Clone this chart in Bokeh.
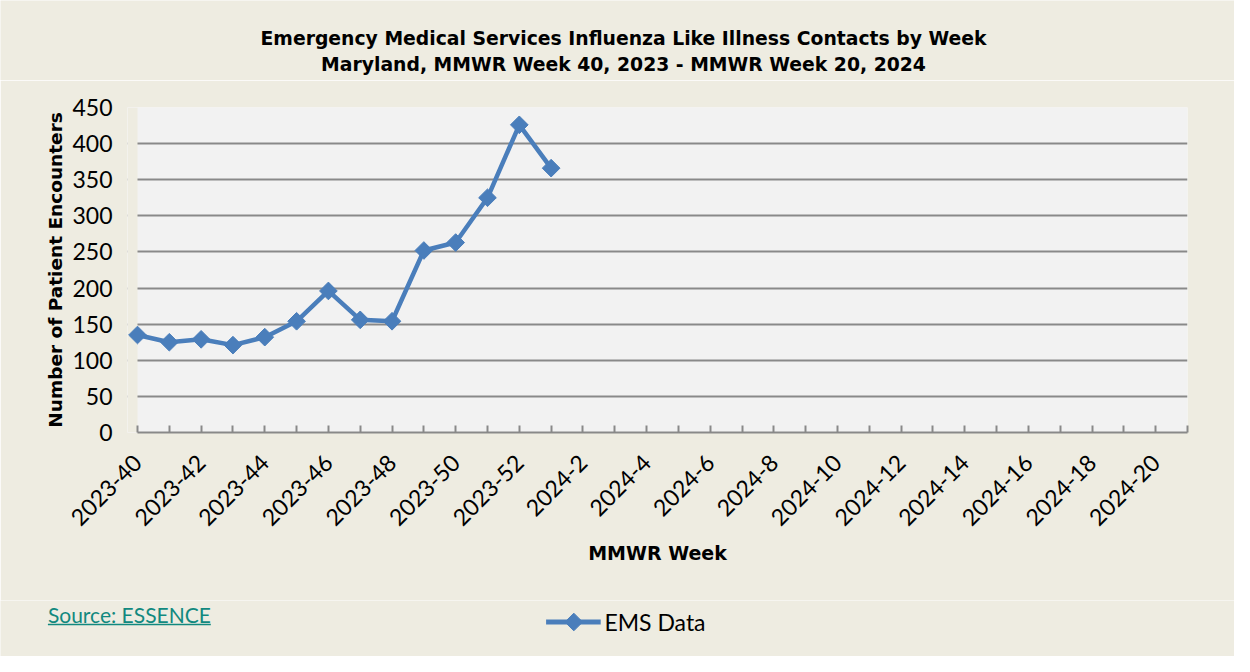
import math
from bokeh.plotting import figure
from bokeh.models import Range1d, FixedTicker, Label, BoxAnnotation
from bokeh.layouts import column
from bokeh.embed import file_html
from bokeh.resources import INLINE

# ---- data ----
weeks = [f"2023-{w}" for w in range(40, 53)] + [f"2024-{w}" for w in range(1, 21)]
ems_values = [135, 125, 129, 121, 132, 154, 196, 156, 154, 252, 263, 325, 426, 366]
y_ticks = [0, 50, 100, 150, 200, 250, 300, 350, 400, 450]

title_1 = "Emergency Medical Services Influenza Like Illness Contacts by Week"
title_2 = "Maryland, MMWR Week 40, 2023 - MMWR Week 20, 2024"
y_title = "Number of Patient Encounters"
x_title = "MMWR Week"
source_text = "Source: ESSENCE"
series_name = "EMS Data"

# ---- styling ----
BG = "#EEECE1"
PLOT_BG = "#F2F2F2"
GRID = "#898989"
LINE = "#4A7EBB"
TEAL = "#12897F"
TICK_FONT = "Lato"
BOLD_FONT = "DejaVu Sans"

W = 1234
TOP_H, MAIN_H, BOT_H = 80, 520, 56


def no_align(fig):
    try:
        fig.frame_align = False
    except Exception:
        pass


def strip(h):
    f = figure(width=W, height=h, output_backend="svg", toolbar_location=None,
               x_range=Range1d(0, W), y_range=Range1d(h, 0),
               x_axis_type=None, y_axis_type=None, min_border=0)
    f.background_fill_color = BG
    f.border_fill_color = BG
    f.outline_line_color = None
    f.grid.visible = False
    no_align(f)
    return f


# ---------------- top strip: titles ----------------
top = strip(TOP_H)
for txt, yy in ((title_1, 37.5), (title_2, 63.5)):
    top.add_layout(Label(x=623, y=yy, text=txt, text_font=BOLD_FONT,
                         text_font_size="18.8px", text_font_style="bold",
                         text_color="black", text_align="center",
                         text_baseline="middle"))

# ---------------- main chart ----------------
FL, FR, FT, FB = 127, 1187, 27, 168   # frame borders
x_start = -0.314
n_pos = len(weeks) + 1

p = figure(width=W, height=MAIN_H, output_backend="svg", toolbar_location=None,
           x_range=Range1d(x_start, len(weeks)), y_range=Range1d(0, 450),
           min_border_left=FL, min_border_right=W - FR,
           min_border_top=FT, min_border_bottom=FB)
no_align(p)
p.background_fill_color = PLOT_BG
p.border_fill_color = BG
p.outline_line_color = None

p.xgrid.grid_line_color = None
p.ygrid.ticker = FixedTicker(ticks=y_ticks)
p.ygrid.grid_line_color = GRID
p.ygrid.grid_line_width = 2

# beige cover for the small extension left of the first category
p.add_layout(BoxAnnotation(left=x_start, right=0, fill_color=BG, fill_alpha=1,
                           line_color=None, level="underlay"))

xa = p.xaxis[0]
xa.ticker = FixedTicker(ticks=list(range(n_pos)))
xa.major_label_overrides = {i: (weeks[i] if (i < len(weeks) and i % 2 == 0) else "")
                            for i in range(n_pos)}
xa.bounds = (0, len(weeks))
xa.axis_line_color = GRID
xa.axis_line_width = 2
xa.major_tick_line_color = GRID
xa.major_tick_line_width = 2
xa.major_tick_in = 7
xa.major_tick_out = 0
xa.minor_tick_line_color = None
xa.major_label_orientation = math.pi / 4
xa.major_label_text_font = TICK_FONT
xa.major_label_text_font_size = "23px"
xa.major_label_text_color = "black"
xa.major_label_standoff = 26
xa.axis_label = x_title
xa.axis_label_text_font = BOLD_FONT
xa.axis_label_text_font_size = "19px"
xa.axis_label_text_font_style = "bold"
xa.axis_label_text_color = "black"
xa.axis_label_standoff = 6

ya = p.yaxis[0]
ya.ticker = FixedTicker(ticks=y_ticks)
ya.axis_line_color = None
ya.major_tick_line_color = None
ya.minor_tick_line_color = None
ya.major_tick_in = 0
ya.major_tick_out = 0
ya.major_label_standoff = 15
ya.major_label_text_font = TICK_FONT
ya.major_label_text_font_size = "23px"
ya.major_label_text_color = "black"
ya.axis_label = y_title
ya.axis_label_text_font = BOLD_FONT
ya.axis_label_text_font_size = "18.5px"
ya.axis_label_text_font_style = "bold"
ya.axis_label_text_color = "black"
ya.axis_label_standoff = 3

xs = list(range(len(ems_values)))
p.line(xs, ems_values, line_color=LINE, line_width=4.5)
p.scatter(xs, ems_values, marker="square", size=12.5, angle=math.pi / 4,
          fill_color=LINE, line_color=LINE)

# ---------------- bottom strip: source + legend ----------------
bot = strip(BOT_H)
bot.add_layout(Label(x=47.4, y=14, text=source_text, text_font=TICK_FONT,
                     text_font_size="21px", text_color=TEAL, text_align="left",
                     text_baseline="middle"))
bot.segment(x0=[47.4], y0=[24], x1=[210.3], y1=[24], line_color=TEAL, line_width=1.3)

bot.segment(x0=[545.6], y0=[21.5], x1=[600.2], y1=[21.5], line_color=LINE, line_width=5)
bot.scatter(x=[573.3], y=[21.5], marker="square", size=12.5, angle=math.pi / 4,
            fill_color=LINE, line_color=LINE)
bot.add_layout(Label(x=603.9, y=21.5, text=series_name, text_font=TICK_FONT,
                     text_font_size="23px", text_color="black", text_align="left",
                     text_baseline="middle"))

layout = column(top, p, bot, spacing=0)
open("out.html", "w").write(file_html(layout, INLINE))
